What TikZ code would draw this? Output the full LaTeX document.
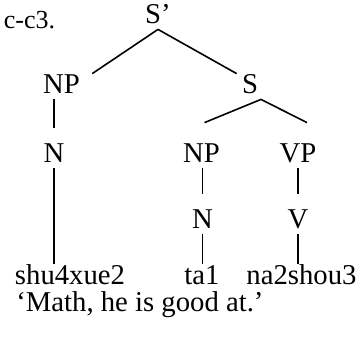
\documentclass[tikz,border=0pt]{standalone}
\usepackage{fontspec}
\setmainfont{Liberation Serif}
\usetikzlibrary{positioning}
\newcommand{\treefont}{\fontsize{14.35pt}{17pt}\selectfont}
\newcommand{\exfont}{\fontsize{13pt}{15pt}\selectfont}
\tikzset{
  cat/.style={font=\treefont, inner sep=0pt, anchor=base, text height=17pt, text depth=3pt},
  word/.style={font=\treefont, inner sep=0pt, anchor=base, text height=10pt, text depth=0pt},
  gloss/.style={font=\treefont, inner sep=0pt, anchor=base west},
  exno/.style={font=\exfont, inner sep=0pt, anchor=base west},
  br/.style={line width=0.8pt, black}}

\begin{document}
\begin{tikzpicture}[x=0.5pt, y=-0.5pt]
\useasboundingbox (0,0) rectangle (364,339);
\node[exno] (exnum) at (3.4,28) {c-c3.};
% tree
\node[cat] (sp) at (158,23) {S'};
\node[cat] (np) at (61.5,93) {NP};
\node[cat] (s) at (250,93) {S};
\node[cat] (n) at (54,162) {N};
\node[cat] (np2) at (201.5,162) {NP};
\node[cat] (vp) at (298,162) {VP};
\node[cat] (n2) at (202.5,228) {N};
\node[cat] (v) at (298,228) {V};
\node[word] (w1) at (70,284) {shu4xue2};
\node[word] (w2) at (202,284) {ta1};
\node[word] (w3) at (301.5,284) {na2shou3};
\node[gloss] (tr) at (16,311) {`Math, he is good at.'};
% branches
\draw[br] (sp.south) -- ([shift={(12,15)}]np.north east);
\draw[br] (sp.south) -- ([shift={(-5,15)}]s.north west);
\draw[br] ([shift={(11,0)}]s.south) -- ([shift={(3,-5)}]np2.north);
\draw[br] ([shift={(11,0)}]s.south) -- ([shift={(9,-5)}]vp.north);
\draw[br] (np.south -| n) -- (n.north);
\draw[br] (np2.south -| n2) -- (n2.north);
\draw[br] (vp.south -| v) -- (v.north);
\draw[br] (n.south) -- (n.south |- w1.north);
\draw[br] (n2.south) -- (n2.south |- w2.north);
\draw[br] (v.south) -- (v.south |- w3.north);
\end{tikzpicture}
\end{document}
